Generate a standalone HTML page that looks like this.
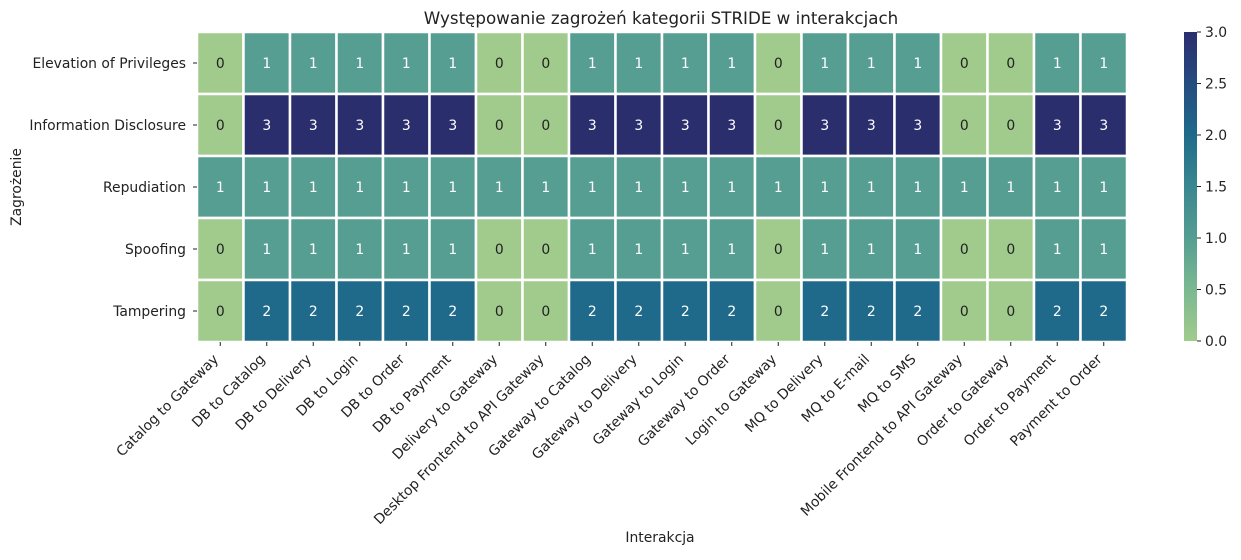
<!DOCTYPE html>
<html><head><meta charset="utf-8"><style>
body{margin:0;background:#fff}
text{font-family:"DejaVu Sans","Liberation Sans",sans-serif;font-size:13.9px;fill:#222}
</style></head><body>
<svg id="c" width="1241" height="555" xmlns="http://www.w3.org/2000/svg">
<defs><linearGradient id="g" x1="0" y1="1" x2="0" y2="0">
<stop offset="0" stop-color="#a1cb8c"/><stop offset="0.17" stop-color="#7ab890"/><stop offset="0.33" stop-color="#569e92"/><stop offset="0.5" stop-color="#3a8690"/><stop offset="0.67" stop-color="#1f6a8a"/><stop offset="0.83" stop-color="#254c7f"/><stop offset="1" stop-color="#2b2e6d"/></linearGradient></defs>
<text x="661" y="24" text-anchor="middle" style="font-size:16.7px">Występowanie zagrożeń kategorii STRIDE w interakcjach</text>
<g id="cells"></g><g id="xt"></g><g id="yt"></g>
<text x="660" y="542" text-anchor="middle">Interakcja</text>
<text transform="translate(21,187) rotate(-90)" text-anchor="middle">Zagrożenie</text>
<rect x="1184" y="32" width="13" height="309" fill="url(#g)"/>
<g id="cb"></g>
</svg>
<script>
const cols=["Catalog to Gateway","DB to Catalog","DB to Delivery","DB to Login","DB to Order","DB to Payment","Delivery to Gateway","Desktop Frontend to API Gateway","Gateway to Catalog","Gateway to Delivery","Gateway to Login","Gateway to Order","Login to Gateway","MQ to Delivery","MQ to E-mail","MQ to SMS","Mobile Frontend to API Gateway","Order to Gateway","Order to Payment","Payment to Order"];
const rows=["Elevation of Privileges","Information Disclosure","Repudiation","Spoofing","Tampering"];
const elevation=[0,1,1,1,1,1,0,0,1,1,1,1,0,1,1,1,0,0,1,1];
const disclosure=[0,3,3,3,3,3,0,0,3,3,3,3,0,3,3,3,0,0,3,3];
const repudiation=[1,1,1,1,1,1,1,1,1,1,1,1,1,1,1,1,1,1,1,1];
const spoofing=[0,1,1,1,1,1,0,0,1,1,1,1,0,1,1,1,0,0,1,1];
const tampering=[0,2,2,2,2,2,0,0,2,2,2,2,0,2,2,2,0,0,2,2];
const cbTicks=[0,0.5,1,1.5,2,2.5,3];
const values=[elevation,disclosure,repudiation,spoofing,tampering];
const NS="http://www.w3.org/2000/svg";
const X0=197,X1=1127,Y0=32,Y1=342;
const cw=(X1-X0)/cols.length, rh=(Y1-Y0)/rows.length;
const xs=i=>X0+i*cw, ys=j=>Y0+j*rh;
const pal=["#a1cb8c","#569e92","#1f6a8a","#2b2e6d"];
function mk(t,a,p){const e=document.createElementNS(NS,t);for(const k in a)e.setAttribute(k,a[k]);p.appendChild(e);return e;}
const cg=document.getElementById('cells');
values.forEach((row,j)=>row.forEach((v,i)=>{
 const r=mk('rect',{x:xs(i),y:ys(j),width:cw,height:rh,fill:pal[v],stroke:'#fff','stroke-width':2.5},cg);
 
 
 const t=mk('text',{x:xs(i)+cw/2,y:ys(j)+rh/2+5,'text-anchor':'middle',style:'fill:'+(v>=1?'#fff':'#222')},cg);
 t.textContent=v;
 
 
}));
const xt=document.getElementById('xt');
cols.forEach((c,i)=>{const x=xs(i)+cw/2;
 mk('line',{x1:x,x2:x,y1:Y1,y2:Y1+4,stroke:'#222'},xt);
 const t=mk('text',{transform:`translate(${x-1},${Y1+18}) rotate(-45)`,'text-anchor':'end'},xt);
 t.textContent=c;
 
 
});
const yt=document.getElementById('yt');
rows.forEach((r,j)=>{const y=ys(j)+rh/2;
 mk('line',{x1:X0-4,x2:X0,y1:y,y2:y,stroke:'#222'},yt);
 const t=mk('text',{x:X0-11,y:y+5,'text-anchor':'end'},yt);
 t.textContent=r;
 
 
});
const cb=document.getElementById('cb');
cbTicks.forEach(v=>{const y=341-v/3*309;
 mk('line',{x1:1197,x2:1201,y1:y,y2:y,stroke:'#222'},cb);
 const t=mk('text',{x:1205,y:y+5},cb);
 t.textContent=v.toFixed(1);
 
 
});
</script>
</body></html>
